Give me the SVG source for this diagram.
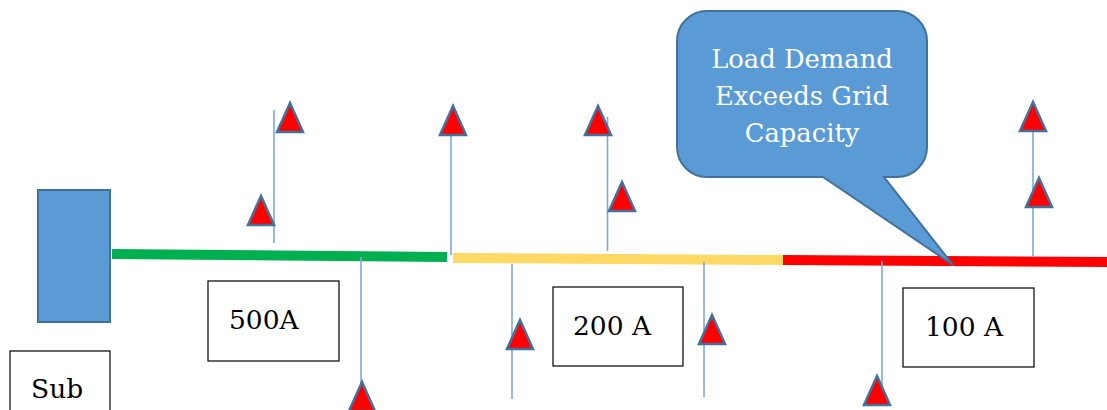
<svg xmlns="http://www.w3.org/2000/svg" width="1107" height="410" viewBox="0 0 1107 410">
<style>
.box{fill:#fff;stroke:#000;stroke-width:1.2}
.lbl{font-family:'DejaVu Serif',serif;font-size:26.5px;fill:#000}
.wt{font-family:'DejaVu Serif',serif;font-size:25.8px;fill:#fff;text-anchor:middle}
.tap{stroke:#7FA7D8;stroke-width:1.6;fill:none}
.tri{fill:#FF0000;stroke:#41719C;stroke-width:2.5;stroke-linejoin:miter}
</style>
<defs>
<polygon id="tr" points="0,0 13,29 -13,29"/>
</defs>
<g id="substation">
<rect x="38" y="190" width="72" height="132" fill="#5B9BD5" stroke="#41719C" stroke-width="2"/>
</g>
<g id="sub-label">
<rect class="box" x="10" y="351" width="100" height="70"/>
<text class="lbl" x="31" y="398">Sub</text>
</g>
<g id="connectors">
<line x1="112" y1="254" x2="447" y2="257" stroke="#00B050" stroke-width="10"/>
<line x1="453" y1="258" x2="783" y2="260" stroke="#FFD966" stroke-width="10"/>
<line x1="783" y1="260" x2="1107" y2="262" stroke="#FF0000" stroke-width="10"/>
<line class="tap" x1="274" y1="110" x2="274" y2="243"/>
<line class="tap" x1="451" y1="135" x2="451" y2="255"/>
<line class="tap" x1="361" y1="257" x2="361" y2="395"/>
<line class="tap" x1="607.5" y1="117" x2="607.5" y2="251"/>
<line class="tap" x1="512" y1="264" x2="512" y2="399"/>
<line class="tap" x1="704" y1="262" x2="704" y2="397"/>
<line class="tap" x1="882" y1="261" x2="882" y2="395"/>
<line class="tap" x1="1033" y1="131" x2="1033" y2="256"/>
</g>
<g id="loads">
<use href="#tr" class="tri" x="290" y="103"/>
<use href="#tr" class="tri" x="261" y="196"/>
<use href="#tr" class="tri" x="453" y="106"/>
<use href="#tr" class="tri" x="362" y="382"/>
<use href="#tr" class="tri" x="598" y="106"/>
<use href="#tr" class="tri" x="622" y="182"/>
<use href="#tr" class="tri" x="520" y="320"/>
<use href="#tr" class="tri" x="712" y="315"/>
<use href="#tr" class="tri" x="1033" y="102"/>
<use href="#tr" class="tri" x="1039" y="178"/>
<use href="#tr" class="tri" x="877" y="376"/>
</g>
<g id="seg1">
<rect class="box" x="208" y="281" width="131" height="80"/>
<text class="lbl" x="229" y="329">500A</text>
</g>
<g id="seg2">
<rect class="box" x="553" y="287" width="130" height="79"/>
<text class="lbl" x="573" y="335">200 A</text>
</g>
<g id="seg3">
<rect class="box" x="903" y="288" width="131" height="79"/>
<text class="lbl" x="925" y="336">100 A</text>
</g>
<g id="callout">
<path d="M707,11 H897 A30,30 0 0 1 927,41 V147 A30,30 0 0 1 897,177 H884 L953,265 L823,177 H707 A30,30 0 0 1 677,147 V41 A30,30 0 0 1 707,11 Z" fill="#5B9BD5" stroke="#41719C" stroke-width="2"/>
<text class="wt" x="802" y="68">Load Demand</text>
<text class="wt" x="802" y="105">Exceeds Grid</text>
<text class="wt" x="802" y="142">Capacity</text>
</g>
</svg>
